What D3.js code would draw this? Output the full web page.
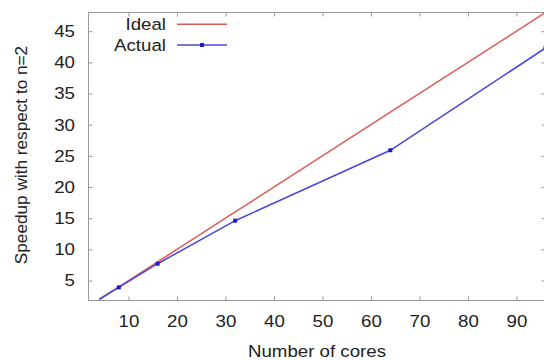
<!DOCTYPE html>
<html>
<head>
<meta charset="utf-8">
<script src="https://cdn.jsdelivr.net/npm/d3@7"></script>
<style>
  body { margin: 0; background: #fff; }
  svg { display: block; }
  text { font-family: "Liberation Sans", Arial, sans-serif; fill: #222; }
</style>
</head>
<body>
<svg width="544" height="360"></svg>
<script>
const cores = [4, 8, 16, 32, 64, 96];
const ideal = [2, 4, 8, 16, 32, 48];
const actual = [2, 3.9, 7.7, 14.6, 25.9, 42.3];
const xTicks = [10, 20, 30, 40, 50, 60, 70, 80, 90];
const yTicks = [5, 10, 15, 20, 25, 30, 35, 40, 45];

const svg = d3.select("svg"),
    plotLeft = 88.5, plotRight = 545.5, plotTop = 12.5, plotBottom = 300.5,
    stretch = "scale(1.1,1)"; // the original text is a little wide

const x = d3.scaleLinear().domain([1.75, 96]).range([plotLeft, plotRight]);
const y = d3.scaleLinear().domain([1.8, 48]).range([plotBottom, plotTop]);

// frame
svg.append("rect")
    .attr("x", plotLeft).attr("y", plotTop)
    .attr("width", plotRight - plotLeft).attr("height", plotBottom - plotTop)
    .attr("fill", "none").attr("stroke", "#999").attr("stroke-width", 1);

// axes with inward ticks, mirrored on the top and right
const axisStyle = function(g) {
    g.select(".domain").remove();
    g.selectAll(".tick line").attr("stroke", "#999");
    g.selectAll(".tick text").attr("font-size", "17px").attr("fill", "#222")
        .attr("transform", stretch);
};

svg.append("g")
    .attr("transform", "translate(0," + plotBottom + ")")
    .call(d3.axisBottom(x).tickValues(xTicks).tickSizeInner(-4).tickPadding(14))
    .call(axisStyle);
svg.append("g")
    .attr("transform", "translate(0," + plotTop + ")")
    .call(d3.axisTop(x).tickValues(xTicks).tickSizeInner(-4).tickFormat(""))
    .call(axisStyle);
svg.append("g")
    .attr("transform", "translate(" + plotLeft + ",0)")
    .call(d3.axisLeft(y).tickValues(yTicks).tickSizeInner(-4).tickPadding(12.3))
    .call(axisStyle);
svg.append("g")
    .attr("transform", "translate(" + plotRight + ",0)")
    .call(d3.axisRight(y).tickValues(yTicks).tickSizeInner(-4).tickFormat(""))
    .call(axisStyle);

// axis titles
svg.append("text")
    .attr("transform", "translate(" + (plotLeft + plotRight) / 2 + ",357) " + stretch)
    .attr("text-anchor", "middle").attr("font-size", "17px")
    .text("Number of cores");
svg.append("text")
    .attr("transform", "translate(27,155) rotate(-90)")
    .attr("text-anchor", "middle").attr("font-size", "17.2px")
    .text("Speedup with respect to n=2");

// lines
const line = d3.line()
    .x(function(d) { return x(d[0]); })
    .y(function(d) { return y(d[1]); });

svg.append("path")
    .datum(d3.zip(cores, ideal))
    .attr("fill", "none").attr("stroke", "#e05858").attr("stroke-width", 1.5)
    .attr("d", line);

svg.append("path")
    .datum(d3.zip(cores, actual))
    .attr("fill", "none").attr("stroke", "#4646dc").attr("stroke-width", 1.5)
    .attr("d", line);

svg.append("g")
    .selectAll("rect")
    .data(d3.zip(cores, actual).slice(1))
    .enter().append("rect")
    .attr("x", function(d) { return x(d[0]) - 2; })
    .attr("y", function(d) { return y(d[1]) - 2; })
    .attr("width", 4).attr("height", 4)
    .attr("fill", "#1a1ad0");

// legend
const legend = [
    { name: "Ideal", color: "#e05858", dot: false },
    { name: "Actual", color: "#4646dc", dot: true }
];
const lg = svg.append("g").selectAll("g")
    .data(legend)
    .enter().append("g")
    .attr("transform", function(d, i) { return "translate(0," + (24.3 + i * 20.7) + ")"; });
lg.append("text")
    .attr("transform", "translate(166,0) " + stretch)
    .attr("dy", "0.35em")
    .attr("text-anchor", "end").attr("font-size", "17px")
    .text(function(d) { return d.name; });
lg.append("line")
    .attr("x1", 177).attr("x2", 227)
    .attr("stroke", function(d) { return d.color; }).attr("stroke-width", 1.5);
lg.filter(function(d) { return d.dot; }).append("rect")
    .attr("x", 200).attr("y", -2).attr("width", 4).attr("height", 4)
    .attr("fill", "#1a1ad0");
</script>
</body>
</html>
